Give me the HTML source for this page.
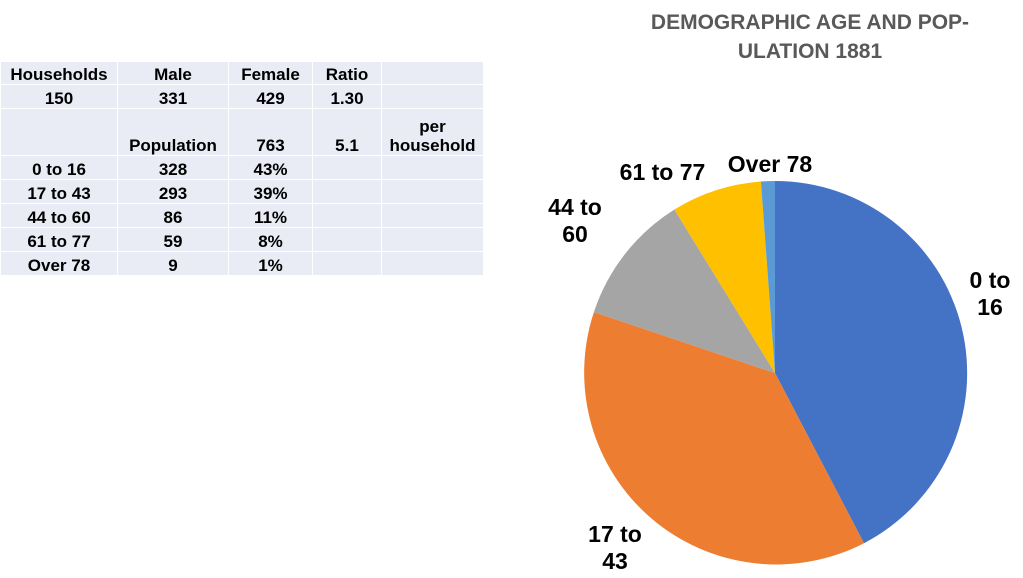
<!DOCTYPE html>
<html><head><style>
body{margin:0;width:1023px;height:578px;background:#fff;font-family:"Liberation Sans",sans-serif;overflow:hidden;position:relative}
table{position:absolute;left:0;top:61px;border-collapse:collapse;font-weight:bold;font-size:17px;color:#000}
td{background:#e9ebf5;border:1.5px solid #fff;text-align:center;padding:0;line-height:19px;vertical-align:bottom}
.t{position:absolute;font-weight:bold;color:#000;font-size:23px;line-height:27px;text-align:center}
</style></head><body>
<table>
<tr style="height:23px"><td style="width:116px">Households</td><td style="width:110px">Male</td><td style="width:83px">Female</td><td style="width:68px">Ratio</td><td style="width:101px"></td></tr>
<tr style="height:24px"><td>150</td><td>331</td><td>429</td><td>1.30</td><td></td></tr>
<tr style="height:47px"><td></td><td>Population</td><td>763</td><td>5.1</td><td>per<br>household</td></tr>
<tr style="height:24px"><td>0 to 16</td><td>328</td><td>43%</td><td></td><td></td></tr>
<tr style="height:24px"><td>17 to 43</td><td>293</td><td>39%</td><td></td><td></td></tr>
<tr style="height:24px"><td>44 to 60</td><td>86</td><td>11%</td><td></td><td></td></tr>
<tr style="height:24px"><td>61 to 77</td><td>59</td><td>8%</td><td></td><td></td></tr>
<tr style="height:24px"><td>Over 78</td><td>9</td><td>1%</td><td></td><td></td></tr>
</table>
<div style="position:absolute;left:600px;top:8px;width:420px;text-align:center;color:#595959;font-weight:bold;font-size:21px;line-height:29px">DEMOGRAPHIC AGE AND POP-<br>ULATION 1881</div>
<svg style="position:absolute;left:0;top:0" width="1023" height="578">
<path d="M775,373 L775,181 A192,192 0 0 1 864,543.2 Z" fill="#4472c4"/>
<path d="M775,373 L864,543.2 A192,192 0 0 1 593.9,312.1 Z" fill="#ed7d31"/>
<path d="M775,373 L593.9,312.1 A192,192 0 0 1 674.4,209.5 Z" fill="#a5a5a5"/>
<path d="M775,373 L674.4,209.5 A192,192 0 0 1 760.9,181.5 Z" fill="#ffc000"/>
<path d="M775,373 L760.9,181.5 A192,192 0 0 1 775,181 Z" fill="#5b9bd5"/>
</svg>
<div class="t" style="left:955px;top:267px;width:70px">0 to<br>16</div>
<div class="t" style="left:575px;top:521px;width:80px">17 to<br>43</div>
<div class="t" style="left:545px;top:194px;width:60px">44 to<br>60</div>
<div class="t" style="left:605px;top:159px;width:115px">61 to 77</div>
<div class="t" style="left:715px;top:151px;width:110px">Over 78</div>
</body></html>
